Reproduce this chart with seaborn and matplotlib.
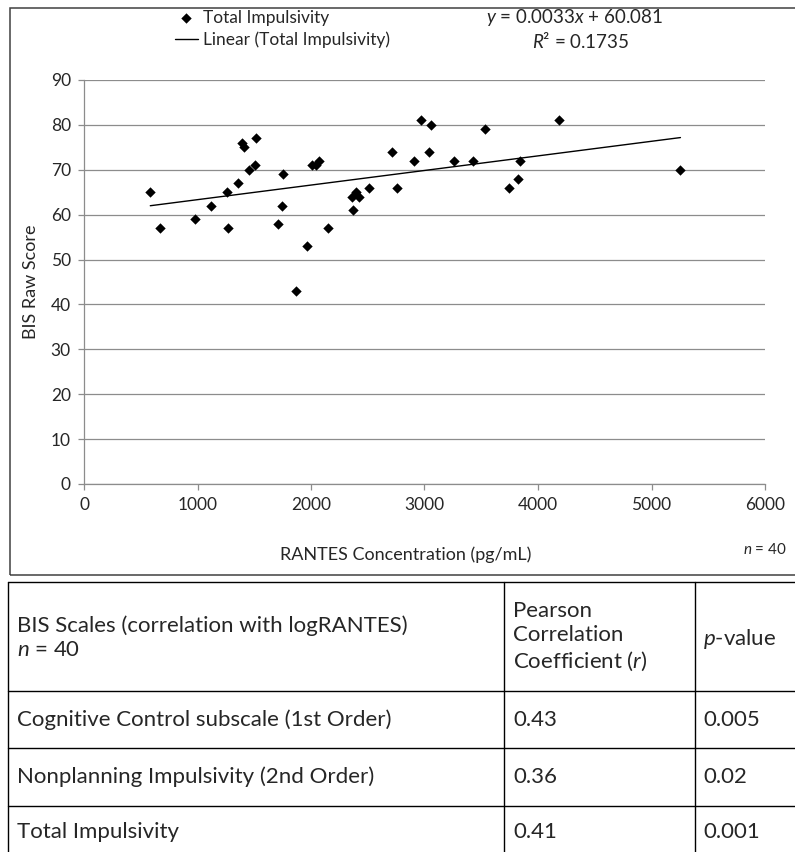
import numpy as np
import pandas as pd
import matplotlib
matplotlib.use("Agg")
import matplotlib.pyplot as plt
import seaborn as sns
from matplotlib.patches import Rectangle
from matplotlib.lines import Line2D

# data (pg/mL vs BIS raw score)
rantes = [584, 672, 980, 1115, 1259, 1265, 1356, 1388, 1409, 1456,
          1503, 1512, 1705, 1743, 1752, 1867, 1961, 2011, 2040, 2072,
          2146, 2360, 2370, 2400, 2420, 2507, 2715, 2759, 2909, 2970,
          3044, 3058, 3260, 3427, 3536, 3741, 3823, 3844, 4187, 5255]
bis_score = [65, 57, 59, 62, 65, 57, 67, 76, 75, 70,
             71, 77, 58, 62, 69, 43, 53, 71, 71, 72,
             57, 64, 61, 65, 64, 66, 74, 66, 72, 81,
             74, 80, 72, 72, 79, 66, 68, 72, 81, 70]
x_ticks = [0, 1000, 2000, 3000, 4000, 5000, 6000]
y_ticks = [0, 10, 20, 30, 40, 50, 60, 70, 80, 90]
equation = r"$y$ = 0.0033$x$ + 60.081"
r_squared = r"$R$² = 0.1735"

# table below the chart
header = [r"BIS Scales (correlation with logRANTES)" + "\n" + r"$n$ = 40",
          "Pearson\nCorrelation\nCoefficient ($r$)",
          r"$p$-value"]
scales = ["Cognitive Control subscale (1st Order)",
          "Nonplanning Impulsivity (2nd Order)",
          "Total Impulsivity"]
pearson_r = ["0.43", "0.36", "0.41"]
p_values = ["0.005", "0.02", "0.001"]

W, H = 795, 852


def fx(px):
    return px / W


def fy(py):
    return 1 - py / H


def main():
    sns.set_theme(style="white")
    plt.rcParams['font.family'] = ['Lato', 'DejaVu Sans']
    plt.rcParams['mathtext.fontset'] = 'custom'
    plt.rcParams['mathtext.rm'] = 'Lato'
    plt.rcParams['mathtext.it'] = 'Lato:italic'

    grey = "#8c8c8c"
    fig = plt.figure(figsize=(W / 100, H / 100), dpi=100)
    ax = fig.add_axes([fx(84), fy(484), fx(765) - fx(84), fy(80) - fy(484)])

    df = pd.DataFrame({"RANTES": rantes, "BIS": bis_score})
    sns.scatterplot(data=df, x="RANTES", y="BIS", marker="D", color="black",
                    s=28, linewidth=0, label="Total Impulsivity", ax=ax, zorder=3)
    sns.regplot(data=df, x="RANTES", y="BIS", scatter=False, ci=None, color="black",
                line_kws={"lw": 1.0}, ax=ax)
    ax.lines[-1].set_label("Linear (Total Impulsivity)")

    ax.set_xlim(0, 6000)
    ax.set_ylim(0, 90)
    ax.set_xticks(x_ticks)
    ax.set_yticks(y_ticks)
    ax.yaxis.grid(True, color=grey, lw=0.9)
    ax.xaxis.grid(False)
    for s in ["top", "right"]:
        ax.spines[s].set_visible(False)
    for s in ["left", "bottom"]:
        ax.spines[s].set_color(grey)
        ax.spines[s].set_linewidth(0.9)
    ax.tick_params(axis="both", direction="out", length=4.5, width=0.9, color=grey,
                   labelsize=12.5, pad=5, left=True, bottom=True)

    ax.set_xlabel("RANTES Concentration (pg/mL)", fontsize=13)
    ax.xaxis.label.set_va("center")
    ax.xaxis.set_label_coords((406 - 84) / 681, (484 - 555) / 404)
    ax.set_ylabel("BIS Raw Score", fontsize=13)
    ax.yaxis.label.set_va("center")
    ax.yaxis.set_label_coords((31 - 84) / 681, 0.5)
    fig.text(fx(787), fy(550), r"$n$ = 40", ha="right", va="center", fontsize=11)

    handles, labels = ax.get_legend_handles_labels()
    ax.legend(handles, labels, loc="upper left", bbox_to_anchor=(fx(175), fy(10)),
              bbox_transform=fig.transFigure, frameon=False, fontsize=12.5,
              handlelength=1.3, handletextpad=0.3, labelspacing=0.3,
              borderpad=0, borderaxespad=0)
    fig.text(fx(574), fy(18), equation, ha="center", va="center", fontsize=13.5)
    fig.text(fx(581), fy(41), r_squared, ha="center", va="center", fontsize=13.5)

    # chart frame
    fig.add_artist(Rectangle((fx(10), fy(575)), fx(820) - fx(10), fy(8) - fy(575),
                             transform=fig.transFigure, fill=False,
                             edgecolor="#404040", lw=1.1))

    # table grid
    col_x = [8, 504, 695, 800]
    row_y = [582, 691, 748, 806, 860]
    for y in row_y[:-1]:
        fig.add_artist(Line2D([fx(col_x[0]), fx(col_x[-1])], [fy(y), fy(y)],
                              transform=fig.transFigure, color="black", lw=1.0))
    for x in col_x[:-1]:
        fig.add_artist(Line2D([fx(x), fx(x)], [fy(row_y[0]), fy(row_y[-1])],
                              transform=fig.transFigure, color="black", lw=1.0))

    table_fs = 16
    fig.text(fx(17), fy(638), header[0], ha="left", va="center", fontsize=table_fs,
             linespacing=1.25)
    fig.text(fx(513), fy(637), header[1], ha="left", va="center", fontsize=table_fs,
             linespacing=1.25)
    fig.text(fx(703), fy(639), header[2], ha="left", va="center", fontsize=table_fs)
    row_centres = [720, 777, 832]
    for name, r, p, y in zip(scales, pearson_r, p_values, row_centres):
        fig.text(fx(17), fy(y), name, ha="left", va="center", fontsize=table_fs)
        fig.text(fx(513), fy(y), r, ha="left", va="center", fontsize=table_fs)
        fig.text(fx(703), fy(y), p, ha="left", va="center", fontsize=table_fs)

    fig.savefig("out.png", dpi=100)


if __name__ == '__main__':
    main()
